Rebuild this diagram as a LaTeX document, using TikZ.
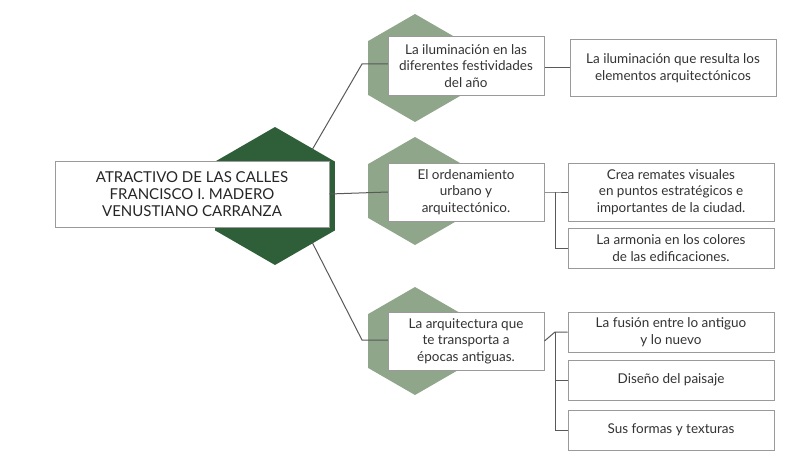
\documentclass[tikz,border=0pt]{standalone}
\usepackage{fontspec}
\setmainfont{Lato}
\usepackage{tikz}
\usetikzlibrary{shapes.geometric, positioning}
\definecolor{darkhex}{HTML}{2F5F38}
\definecolor{lighthex}{HTML}{8FA68A}
\definecolor{boxline}{HTML}{9A9A9A}
\tikzset{
    bighex/.style={regular polygon, regular polygon sides=6, rotate=30, fill=darkhex, minimum size=138pt, inner sep=0pt},
    midhex/.style={regular polygon, regular polygon sides=6, rotate=30, fill=lighthex, minimum size=108pt, inner sep=0pt},
    titlebox/.style={rectangle, draw=boxline, fill=white, line width=1pt, minimum width=274pt, minimum height=66pt, align=center, font=\fontsize{15}{17}\selectfont, text=black!85},
    topicbox/.style={rectangle, draw=boxline, fill=white, line width=1pt, minimum width=156pt, minimum height=58pt, align=center, font=\fontsize{13.5}{16.5}\selectfont, text=black!80},
    leafbox/.style={rectangle, draw=boxline, fill=white, line width=1pt, minimum width=206pt, align=center, font=\fontsize{13.5}{16.5}\selectfont, text=black!80},
    link/.style={draw=black!65, line width=1pt}
}
\begin{document}
\begin{tikzpicture}[x=1pt, y=-1pt]
    \useasboundingbox (0,0) rectangle (800,460);
    % left title
    \node (mainhex) [bighex] at (275,196) {};
    \node (main) [titlebox] at (192,194) {ATRACTIVO DE LAS CALLES\\FRANCISCO I. MADERO\\VENUSTIANO CARRANZA};
    % middle topics
    \node (hexa) [midhex] at (415,68) {};
    \node (hexb) [midhex] at (415,191) {};
    \node (hexc) [midhex] at (415,341) {};
    \coordinate (ua) at (312,150);
    \coordinate (uc) at (312,242);
    \coordinate (ka) at (362,64);
    \coordinate (kc) at (362,340);
    \draw[link] (ua) -- (ka) -- (388,64);
    \draw[link] (main.east) -- (388,192);
    \draw[link] (uc) -- (kc) -- (388,340);
    \node (topa) [topicbox] at (466,66) {La iluminación en las\\diferentes festividades\\del año};
    \node (topb) [topicbox] at (466,192) {El ordenamiento\\urbano y\\arquitectónico.};
    \node (topc) [topicbox] at (466,341) {La arquitectura que\\te transporta a\\épocas antiguas.};
    % right leaves
    \node (leafa) [leafbox, minimum height=56pt] at (673,68) {La iluminación que resulta los\\elementos arquitectónicos};
    \node (leafb) [leafbox, minimum height=58pt] at (671,192) {Crea remates visuales\\en puntos estratégicos e\\importantes de la ciudad.};
    \node (leafc) [leafbox, minimum height=40pt] at (671,248) {La armonia en los colores\\de las edificaciones.};
    \node (leafd) [leafbox, minimum height=40pt] at (671,332) {La fusión entre lo antiguo\\y lo nuevo};
    \node (leafe) [leafbox, minimum height=40pt] at (671,380) {Diseño del paisaje};
    \node (leaff) [leafbox, minimum height=40pt] at (671,430) {Sus formas y texturas};
    \draw[link] (topa.east |- leafa.west) -- (leafa.west);
    \coordinate (bb) at (555,192);
    \coordinate (bc) at (555,332);
    \draw[link] (topb.east) -- (bb |- leafb.west) -- (leafb.west);
    \draw[link] (bb) -- (bb |- leafc.west) -- (leafc.west);
    \draw[link] (topc.east) -- (bc |- leafd.west) -- (leafd.west);
    \draw[link] (bc) -- (bc |- leaff.west) -- (leaff.west);
    \draw[link] (bc |- leafe.west) -- (leafe.west);
\end{tikzpicture}
\end{document}
